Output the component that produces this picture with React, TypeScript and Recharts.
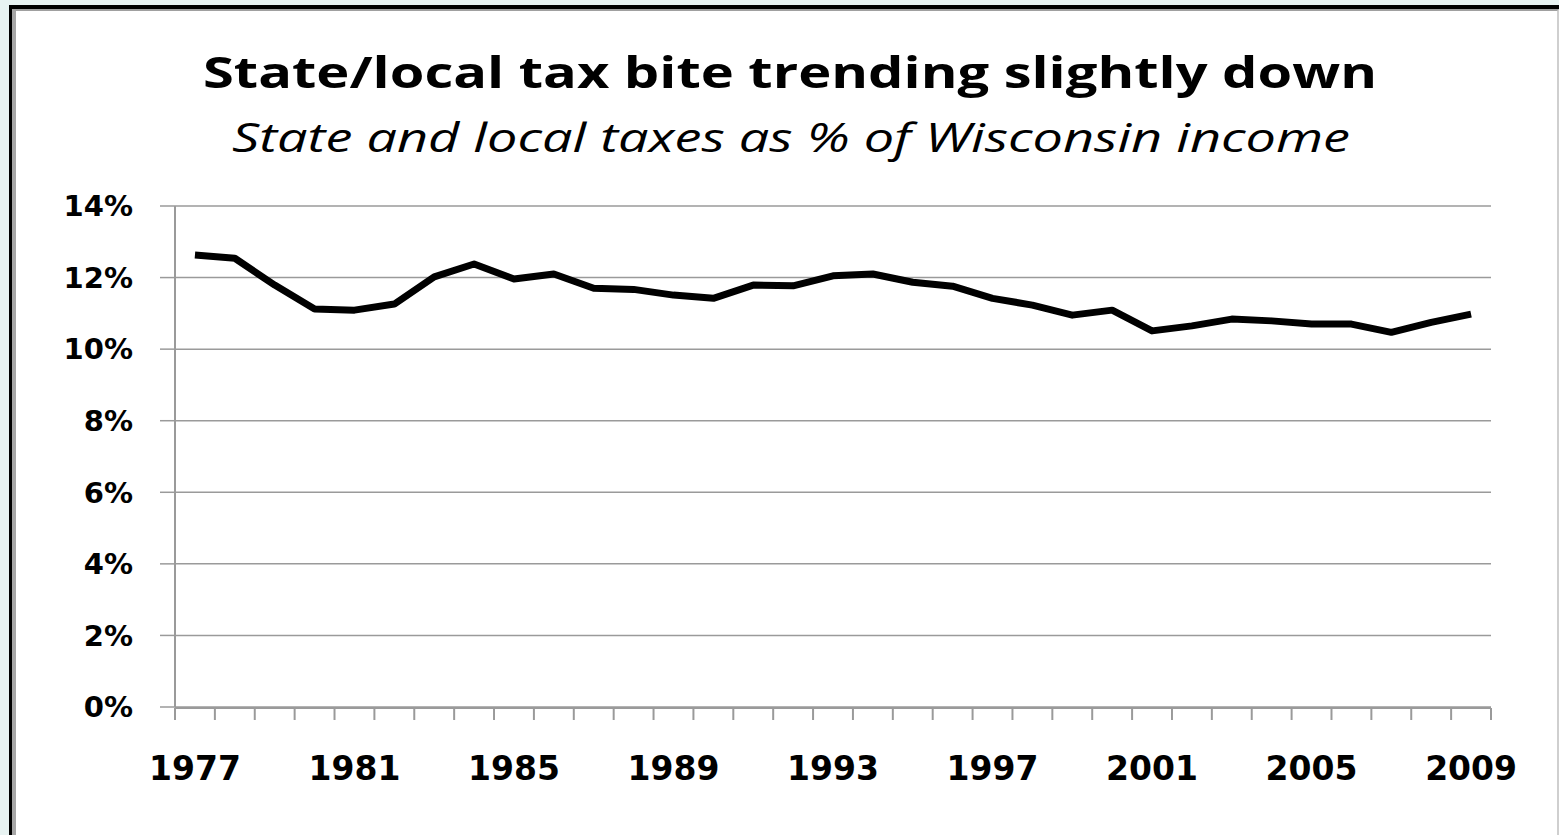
import React from 'react';
import { LineChart, Line, XAxis, YAxis, CartesianGrid } from 'recharts';

const years = ['1977','1978','1979','1980','1981','1982','1983','1984','1985','1986','1987','1988','1989','1990','1991','1992','1993','1994','1995','1996','1997','1998','1999','2000','2001','2002','2003','2004','2005','2006','2007','2008','2009'];
const taxShare = [12.63, 12.54, 11.79, 11.12, 11.09, 11.26, 12.02, 12.38, 11.96, 12.10, 11.70, 11.67, 11.51, 11.42, 11.79, 11.77, 12.05, 12.10, 11.87, 11.76, 11.42, 11.23, 10.95, 11.09, 10.51, 10.65, 10.84, 10.79, 10.70, 10.70, 10.47, 10.75, 10.98];
const yearLabels = ['1977','1981','1985','1989','1993','1997','2001','2005','2009'];
const yTicks = [0, 2, 4, 6, 8, 10, 12, 14];
const boundaryTicks = [...years.map((_, i) => i), years.length];

const title = 'State/local tax bite trending slightly down';
const subtitle = 'State and local taxes as % of Wisconsin income';

const data = years.map((y, i) => ({ year: y, value: taxShare[i], slot: i }));

const W = 1559;
const H = 835;
const GRAY = '#9a9a9a';
const AXIS_FONT = 'DejaVu Sans, sans-serif';

const EmptyTick = () => <g />;

export default function App() {
  return (
    <div style={{ position: 'absolute', left: 0, top: 0, width: W, height: H, background: '#e8f3f2', overflow: 'hidden' }}>
      <div style={{ position: 'absolute', left: 9, top: 5, width: W - 9, height: H, background: '#fff', borderTop: '4px solid #000', borderLeft: '3px solid #000', boxSizing: 'border-box' }}>
        <div style={{ position: 'absolute', left: 0, top: 0, right: 0, bottom: 0, borderTop: '2px solid #a0a0a0', borderLeft: '4px solid #a6a6a6', borderRight: '2px solid #cfcfcf' }} />
      </div>
      <svg width={W} height={200} style={{ position: 'absolute', left: 0, top: 0 }}>
        <text x={790} y={88} textAnchor="middle" fontFamily="'Open Sans', sans-serif" fontWeight={700} fontSize={43} fill="#000" textLength={1174} lengthAdjust="spacingAndGlyphs">{title}</text>
        <text x={791} y={152} textAnchor="middle" fontFamily="'Open Sans', sans-serif" fontStyle="italic" fontSize={41} fill="#000" textLength={1118} lengthAdjust="spacingAndGlyphs">{subtitle}</text>
      </svg>
      <div style={{ position: 'absolute', left: 0, top: 0 }}>
        <LineChart width={W} height={H} data={data} margin={{ top: 206, right: 68, bottom: 126, left: 0 }}>
          <CartesianGrid xAxisId="cat" horizontal={true} vertical={false} stroke={GRAY} strokeWidth={1.5} />
          <XAxis xAxisId="marks" dataKey="slot" type="number" domain={[0, years.length]} ticks={boundaryTicks} tick={<EmptyTick />} tickSize={12} height={1} axisLine={{ stroke: GRAY, strokeWidth: 2 }} tickLine={{ stroke: GRAY, strokeWidth: 2 }} allowDataOverflow />
          <XAxis xAxisId="cat" dataKey="year" type="category" scale="band" ticks={yearLabels} interval={0} height={1} tickSize={0} tickMargin={50} axisLine={false} tickLine={false} tick={{ fill: '#000', fontFamily: AXIS_FONT, fontWeight: 700, fontSize: 33 }} />
          <YAxis domain={[0, 14]} ticks={yTicks} width={175} tickSize={15} tickMargin={27} tickFormatter={(v) => `${v}%`} axisLine={{ stroke: GRAY, strokeWidth: 2 }} tickLine={{ stroke: GRAY, strokeWidth: 1.5 }} tick={{ fill: '#000', fontFamily: AXIS_FONT, fontWeight: 700, fontSize: 29 }} />
          <Line xAxisId="cat" type="linear" dataKey="value" stroke="#000" strokeWidth={7} dot={false} strokeLinejoin="round" isAnimationActive={false} />
        </LineChart>
      </div>
    </div>
  );
}
